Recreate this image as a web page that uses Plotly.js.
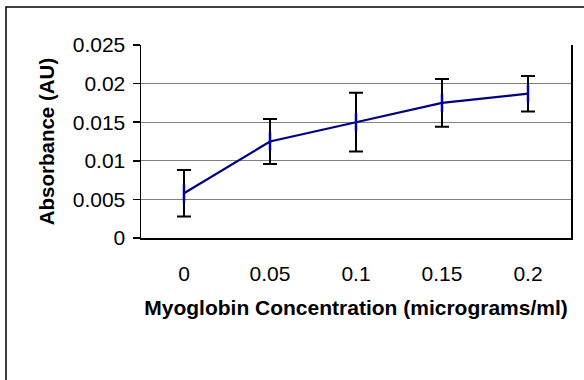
<!DOCTYPE html>
<html>
<head>
<meta charset="utf-8">
<script src="https://cdn.plot.ly/plotly-3.0.1.min.js"></script>
<style>html,body{margin:0;padding:0;background:#fff;}#chart{width:584px;height:380px;}</style>
</head>
<body>
<div id="chart"></div>
<script>
const concentrations = ["0", "0.05", "0.1", "0.15", "0.2"];
const absorbance = [0.0058, 0.0125, 0.0150, 0.0175, 0.0187];
const errors = [0.0030, 0.0029, 0.0038, 0.0031, 0.0023];
const yTicks = [0, 0.005, 0.01, 0.015, 0.02, 0.025];
const yTickLabels = ["0", "0.005", "0.01", "0.015", "0.02", "0.025"];

const W = 584, H = 380;
const L = 141, R = 571, T = 45, B = 238;
const pw = R - L, ph = B - T;
const bx = (6 - L) / pw, by = 1 + (T - 7) / ph;

const trace = {
  x: concentrations,
  y: absorbance,
  type: 'scatter',
  mode: 'lines+markers',
  line: {color: '#000080', width: 2.2},
  marker: {symbol: 'line-ns', size: 13, line: {color: '#0000a0', width: 2.5}, color: '#0000a0'},
  error_y: {type: 'data', array: errors, visible: true, color: '#000000', thickness: 2, width: 7},
  showlegend: false,
  cliponaxis: false
};

const layout = {
  width: W, height: H,
  margin: {l: L, r: W - R, t: T, b: H - B, pad: 0},
  paper_bgcolor: '#ffffff',
  plot_bgcolor: '#ffffff',
  font: {family: '"Liberation Sans", Arial, sans-serif', color: '#000000', size: 20},
  xaxis: {
    type: 'category',
    range: [-0.5, 4.5],
    showgrid: false,
    zeroline: false,
    showline: true, linecolor: '#000000', linewidth: 1.5,
    ticks: 'outside', ticklen: 16, tickcolor: 'rgba(0,0,0,0)',
    tickfont: {size: 21},
    title: {text: '<b>Myoglobin Concentration (micrograms/ml)</b>', font: {size: 21}, standoff: 16},
    fixedrange: true
  },
  yaxis: {
    range: [0, 0.025],
    tickvals: yTicks,
    ticktext: yTickLabels,
    showgrid: true, gridcolor: '#808080', gridwidth: 1,
    zeroline: false,
    showline: true, linecolor: '#000000', linewidth: 1.5,
    mirror: true,
    ticks: 'outside', ticklen: 7, tickcolor: '#000000', tickwidth: 1.5,
    ticklabelstandoff: 3,
    tickfont: {size: 21},
    title: {text: '<b>Absorbance (AU)</b>', font: {size: 20.5}, standoff: 12},
    fixedrange: true
  },
  shapes: [{
    type: 'path', xref: 'paper', yref: 'paper',
    path: `M ${bx} -5 L ${bx} ${by} L 5 ${by}`,
    line: {color: '#000000', width: 1.5}
  }]
};

Plotly.newPlot('chart', [trace], layout, {staticPlot: true, displayModeBar: false});
</script>
</body>
</html>
